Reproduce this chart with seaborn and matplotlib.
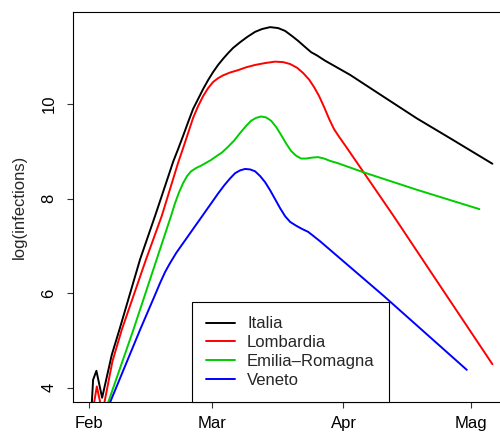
import matplotlib
matplotlib.use("Agg")
import matplotlib.pyplot as plt
from matplotlib.lines import Line2D
import pandas as pd
import seaborn as sns

# Days counted from 1 February; values are log(cumulative infections)
italia_day = [0.5, 0.94, 1.72, 3.07, 5.35, 7.15, 12.03, 15.57, 17.92, 19.81, 20.99,
              22.17, 23.35, 24.53, 25.71, 26.89, 28.07, 29.25, 30.42, 31.60, 32.78,
              33.96, 35.61, 37.26, 39.15, 40.80, 42.69, 44.58, 46.23, 47.88, 49.29,
              50.94, 52.36, 53.77, 55.66, 61.56, 69.41, 77.29, 85.14, 95.12]
italia_val = [3.45, 4.17, 4.36, 3.79, 4.70, 5.23, 6.72, 7.64, 8.27, 8.78, 9.05,
              9.33, 9.62, 9.90, 10.11, 10.32, 10.51, 10.68, 10.83, 10.96, 11.08,
              11.19, 11.31, 11.42, 11.53, 11.59, 11.63, 11.61, 11.55, 11.44, 11.34,
              11.21, 11.10, 11.03, 10.92, 10.62, 10.16, 9.70, 9.28, 8.74]

lombardia_day = [0.75, 1.82, 2.59, 2.85, 3.20, 5.50, 7.71, 13.44, 17.15, 20.99, 22.17,
                 23.35, 24.53, 25.71, 26.89, 28.07, 29.25, 30.42, 31.60, 33.25, 35.14,
                 37.03, 39.15, 41.51, 43.87, 45.75, 47.41, 49.06, 50.47, 51.89, 53.07,
                 54.25, 55.42, 56.60, 57.78, 58.96, 60.61, 71.77, 81.20, 95.12]
lombardia_val = [3.45, 4.03, 3.70, 3.50, 3.50, 4.56, 5.23, 6.72, 7.64, 8.76, 9.07,
                 9.39, 9.71, 9.96, 10.17, 10.34, 10.47, 10.55, 10.61, 10.67, 10.72,
                 10.78, 10.83, 10.87, 10.90, 10.89, 10.85, 10.77, 10.66, 10.52, 10.36,
                 10.17, 9.94, 9.69, 9.47, 9.31, 9.10, 7.64, 6.37, 4.50]

emilia_day = [4.3, 10.45, 19.34, 20.28, 21.23, 22.17, 23.11, 24.06, 25.24, 26.42,
              27.59, 28.77, 30.19, 31.37, 32.78, 34.20, 35.61, 37.03, 38.21, 39.39,
              40.57, 41.75, 42.92, 44.10, 45.28, 46.46, 47.64, 48.82, 50.00, 51.18,
              52.59, 54.01, 55.42, 56.84, 58.73, 64.69, 77.29, 92.05]
emilia_val = [3.64, 5.23, 7.64, 7.91, 8.14, 8.33, 8.48, 8.58, 8.65, 8.70,
              8.76, 8.82, 8.91, 8.98, 9.10, 9.23, 9.39, 9.54, 9.65, 9.71,
              9.74, 9.72, 9.65, 9.52, 9.35, 9.17, 9.01, 8.91, 8.85, 8.85,
              8.87, 8.88, 8.85, 8.80, 8.75, 8.56, 8.19, 7.78]

veneto_day = [4.8, 12.03, 15.57, 16.75, 17.92, 19.10, 20.52, 21.93, 23.35, 24.76,
              26.18, 27.59, 29.01, 30.42, 31.84, 33.25, 34.43, 35.61, 36.79, 37.97,
              39.15, 40.33, 41.51, 42.69, 43.87, 45.05, 46.23, 47.41, 48.82, 50.24,
              51.65, 53.07, 54.48, 69.41, 89.08]
veneto_val = [3.66, 5.23, 5.97, 6.22, 6.45, 6.64, 6.85, 7.03, 7.21, 7.39,
              7.57, 7.75, 7.93, 8.11, 8.28, 8.43, 8.54, 8.60, 8.63, 8.62,
              8.58, 8.48, 8.35, 8.18, 7.99, 7.80, 7.63, 7.51, 7.43, 7.36,
              7.30, 7.20, 7.10, 5.95, 4.38]

regions = ["Italia", "Lombardia", "Emilia\u2013Romagna", "Veneto"]
colors = ["#000000", "#FF0000", "#00CD00", "#0000FF"]

month_ticks = [0, 29, 60, 90]
month_labels = ["Feb", "Mar", "Apr", "Mag"]
y_ticks = [4, 6, 8, 10]

frames = []
for name, d, v in zip(regions,
                      [italia_day, lombardia_day, emilia_day, veneto_day],
                      [italia_val, lombardia_val, emilia_val, veneto_val]):
    frames.append(pd.DataFrame({"day": d, "value": v, "region": name}))
df = pd.concat(frames, ignore_index=True)

sns.set_style("white")
plt.rcParams["font.family"] = ["Liberation Sans", "DejaVu Sans"]
plt.rcParams["font.size"] = 12

fig = plt.figure(figsize=(5.0, 4.32), dpi=100)
ax = fig.add_axes([73 / 500, 30 / 432, 435 / 500, 390 / 432])

sns.lineplot(data=df, x="day", y="value", hue="region", hue_order=regions,
             palette=colors, estimator=None, sort=False, linewidth=1.4,
             legend=False, ax=ax)

ax.set_xlim(-3.8, 98.8)
ax.set_ylim(3.70, 11.95)

ax.set_xticks(month_ticks)
ax.set_xticklabels(month_labels)
ax.set_yticks(y_ticks)
ax.set_yticklabels([str(t) for t in y_ticks], rotation=90, va="center")

ax.tick_params(axis="both", which="major", bottom=True, left=True,
               direction="out", length=4.5, width=0.8,
               color="#333333", labelsize=12, labelcolor="black")
ax.tick_params(axis="x", pad=5.5)
ax.tick_params(axis="y", pad=7.5)

for sp in ax.spines.values():
    sp.set_visible(True)
    sp.set_color("black")
    sp.set_linewidth(0.8)

ax.set_xlabel("")
ax.set_ylabel("log(infections)", fontsize=12)
ax.yaxis.set_label_coords(-0.106, 0.5)

handles = [Line2D([], [], color=c, linewidth=1.4) for c in colors]
leg = ax.legend(handles, regions, loc="lower center", bbox_to_anchor=(0.5, 0.0),
                borderaxespad=0, frameon=True, fancybox=False, framealpha=1,
                edgecolor="black", fontsize=12, handlelength=1.7,
                handletextpad=0.75, labelspacing=0.23, borderpad=0.85)
leg.get_frame().set_linewidth(0.8)

fig.savefig("out.png", dpi=100)
